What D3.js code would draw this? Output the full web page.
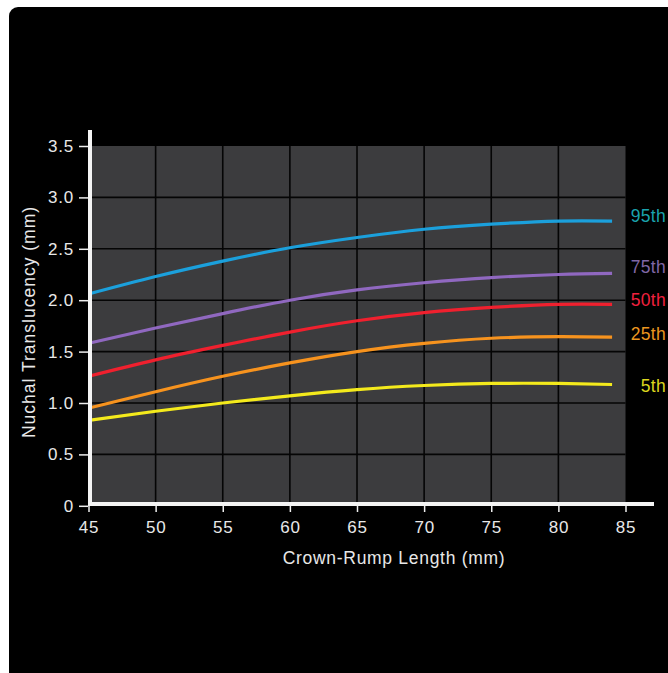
<!DOCTYPE html>
<html lang="en">
<head>
    <meta charset="UTF-8">
    <title>Nuchal Translucency</title>
    <script src="https://d3js.org/d3.v7.min.js"></script>
    <style>
        body { margin: 0; background: #fff; }
        text { font-family: "Liberation Sans", Arial, Helvetica, sans-serif; }
    </style>
</head>
<body>
<svg id="chart"></svg>
<script>

    // crown-rump length (mm) and NT percentiles (mm)
    const crl = [45, 50, 55, 60, 65, 70, 75, 80, 84];
    const p95 = [2.06, 2.23, 2.38, 2.51, 2.61, 2.69, 2.74, 2.77, 2.77];
    const p75 = [1.58, 1.73, 1.87, 2.00, 2.10, 2.17, 2.22, 2.25, 2.26];
    const p50 = [1.26, 1.42, 1.56, 1.69, 1.80, 1.88, 1.93, 1.96, 1.96];
    const p25 = [0.95, 1.11, 1.26, 1.39, 1.50, 1.58, 1.63, 1.645, 1.64];
    const p5 = [0.83, 0.92, 1.00, 1.07, 1.13, 1.17, 1.19, 1.19, 1.18];

    const seriesNames = ['95th', '75th', '50th', '25th', '5th'];
    const seriesValues = [p95, p75, p50, p25, p5];
    const lineColours = ['#1ba0dc', '#9068c0', '#f0202e', '#f7931e', '#f4ea1c'];
    const labelColours = ['#1aa3ad', '#8067a6', '#f0203e', '#eb961f', '#dcd61e'];
    const labelNudge = [-4, -5, -3, -2, 3];

    const xTicks = [45, 50, 55, 60, 65, 70, 75, 80, 85];
    const yTicks = [0, 0.5, 1.0, 1.5, 2.0, 2.5, 3.0, 3.5];

    const width = 668, height = 673;
    const svg = d3.select('#chart').attr('width', width).attr('height', height);

    // black rounded panel
    svg.append('rect')
        .attr('x', 9).attr('y', 7)
        .attr('width', width + 20).attr('height', height + 20)
        .attr('rx', 9)
        .attr('fill', '#000');

    let x = d3.scaleLinear().domain([45, 85]).range([88.5, 625.5]);
    let y = d3.scaleLinear().domain([0, 3.5]).range([505.8, 146]);

    // plot background
    svg.append('rect')
        .attr('x', x(45)).attr('y', y(3.5))
        .attr('width', x(85) - x(45)).attr('height', y(0) - y(3.5))
        .attr('fill', '#3c3c3e');

    // grid
    let grid = svg.append('g').attr('stroke', '#050505').attr('stroke-width', 1.6);
    xTicks.slice(1, -1).forEach((t) => {
        grid.append('line')
            .attr('x1', x(t)).attr('x2', x(t))
            .attr('y1', y(3.5)).attr('y2', y(0));
    });
    yTicks.slice(1, -1).forEach((t) => {
        grid.append('line')
            .attr('x1', x(45)).attr('x2', x(85))
            .attr('y1', y(t)).attr('y2', y(t));
    });

    // percentile curves
    let line = d3.line()
        .x((d, i) => x(crl[i]))
        .y((d) => y(d))
        .curve(d3.curveNatural);

    seriesValues.forEach((vals, k) => {
        svg.append('path')
            .attr('d', line(vals))
            .attr('fill', 'none')
            .attr('stroke', lineColours[k])
            .attr('stroke-width', 3.2)
            .attr('stroke-linecap', 'butt');

        svg.append('text')
            .attr('x', 666)
            .attr('y', y(vals[vals.length - 1]) + labelNudge[k])
            .attr('text-anchor', 'end')
            .attr('dominant-baseline', 'middle')
            .attr('font-size', 17.5)
            .attr('letter-spacing', 0.3)
            .attr('fill', labelColours[k])
            .text(seriesNames[k]);
    });

    // axes
    let xAxis = d3.axisBottom(x).tickValues(xTicks).tickSize(8).tickPadding(9)
        .tickFormat(d3.format('d'));
    let gx = svg.append('g').attr('transform', 'translate(0,504)').call(xAxis);
    gx.select('.domain').remove();
    gx.selectAll('line').attr('stroke', '#eee').attr('stroke-width', 1.5);
    gx.selectAll('text').attr('fill', '#e8e8e8').attr('font-size', 17)
        .attr('letter-spacing', 0.8).attr('font-family', null);

    let yAxis = d3.axisLeft(y).tickValues(yTicks).tickSize(9).tickPadding(5)
        .tickFormat((d) => d === 0 ? '0' : d3.format('.1f')(d));
    let gy = svg.append('g').attr('transform', 'translate(88,0)').call(yAxis);
    gy.select('.domain').remove();
    gy.selectAll('line').attr('stroke', '#eee').attr('stroke-width', 1.5);
    gy.selectAll('text').attr('fill', '#e8e8e8').attr('font-size', 17)
        .attr('letter-spacing', 0.8).attr('font-family', null);

    // thick white axis lines
    svg.append('line')
        .attr('x1', 90).attr('x2', 90)
        .attr('y1', 130).attr('y2', 506)
        .attr('stroke', '#f4f4f4').attr('stroke-width', 4);
    svg.append('line')
        .attr('x1', 88).attr('x2', 654)
        .attr('y1', 504).attr('y2', 504)
        .attr('stroke', '#f4f4f4').attr('stroke-width', 4);

    // axis titles
    svg.append('text')
        .attr('x', 394).attr('y', 564)
        .attr('text-anchor', 'middle')
        .attr('font-size', 17.5)
        .attr('letter-spacing', 0.7)
        .attr('fill', '#e8e8e8')
        .text('Crown-Rump Length (mm)');

    svg.append('text')
        .attr('transform', 'translate(35,322) rotate(-90)')
        .attr('text-anchor', 'middle')
        .attr('font-size', 17.5)
        .attr('letter-spacing', 1.0)
        .attr('fill', '#e8e8e8')
        .text('Nuchal Translucency (mm)');

</script>
</body>
</html>
